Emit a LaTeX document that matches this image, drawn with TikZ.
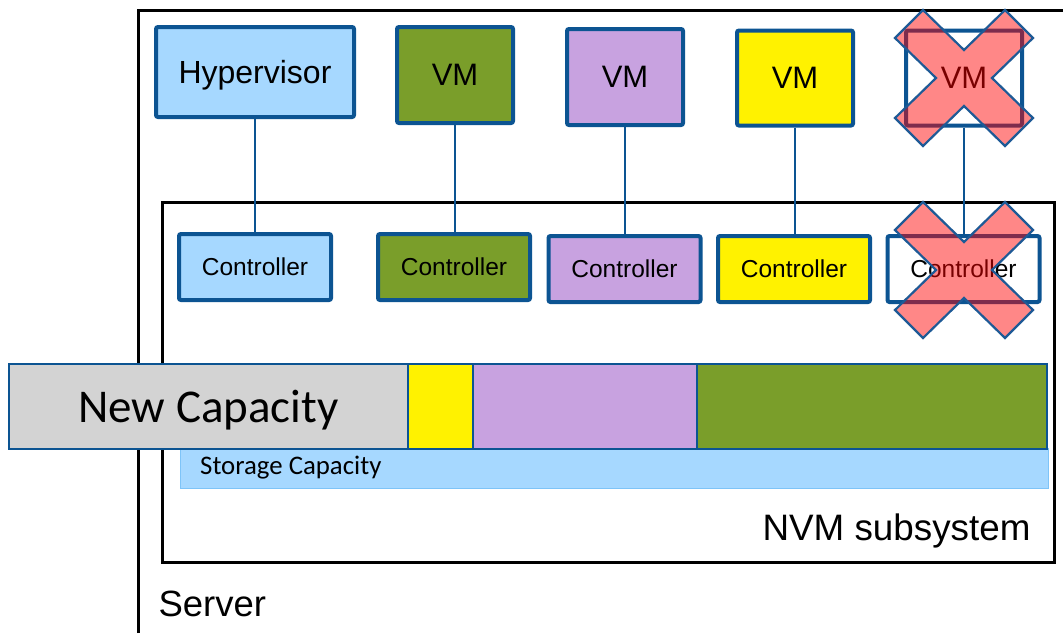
\documentclass[tikz,border=0pt]{standalone}
\usepackage{fontspec}
\setmainfont{Liberation Sans}
\newfontfamily\calfont{Carlito}
\definecolor{bblue}{RGB}{12,84,146}
\definecolor{lblue}{RGB}{166,216,255}
\definecolor{sblue}{RGB}{126,196,248}
\definecolor{ogreen}{RGB}{122,158,42}
\definecolor{lpurple}{RGB}{200,162,224}
\definecolor{gcap}{RGB}{211,211,211}
\definecolor{xred}{RGB}{255,0,0}
\definecolor{xblue}{RGB}{30,90,150}
\begin{document}
\begin{tikzpicture}[x=1pt,y=-1pt,
  box/.style={draw=bblue, line width=4pt, rounded corners=2pt, inner sep=0pt, align=center},
  topbox/.style={box, font=\fontsize{31}{36}\selectfont},
  ctrl/.style={box, minimum width=152, minimum height=66, font=\fontsize{24.5}{29}\selectfont},
  link/.style={draw=bblue, line width=1.3pt},
  seg/.style={draw=bblue, line width=2pt, inner sep=0pt},
  xmark/.style={fill=xred, fill opacity=0.47, draw=xblue, line width=2.2pt, line join=miter}
]
\useasboundingbox (0,0) rectangle (1063,633);
% Server
\draw[line width=3pt] (138,633) -- (138,10) -- (1063,10);
\node[anchor=west, font=\fontsize{36.5}{42}\selectfont] (server) at (155,604) {Server};
% NVM subsystem
\draw[line width=3pt, fill=white] (162,202) rectangle (1054,562);
\node[anchor=east, font=\fontsize{36.8}{42}\selectfont] (nvm) at (1034,531) {NVM subsystem};
% top boxes
\node[topbox, fill=lblue, minimum width=198, minimum height=90, text depth=0pt, font=\fontsize{32}{38}\selectfont] (hyp) at (255,72) {Hypervisor};
\node[topbox, fill=ogreen, minimum width=116, minimum height=96] (vm1) at (455,75) {VM};
\node[topbox, fill=lpurple, minimum width=116, minimum height=96] (vm2) at (625,77) {VM};
\node[topbox, fill=yellow, minimum width=116, minimum height=95] (vm3) at (795,78) {VM};
\node[topbox, fill=white, minimum width=116, minimum height=95] (vm4) at (964,78) {VM};
% controllers
\node[ctrl, fill=lblue] (c0) at (255,267) {Controller};
\node[ctrl, fill=ogreen] (c1) at (454,267) {Controller};
\node[ctrl, fill=lpurple] (c2) at (624.5,269) {Controller};
\node[ctrl, fill=yellow] (c3) at (794,269) {Controller};
\node[ctrl, fill=white] (c4) at (963.5,269) {Controller};
% links
\draw[link] (hyp.south) -- (hyp.south |- c0.north);
\draw[link] (vm1.south) -- (vm1.south |- c1.north);
\draw[link] (vm2.south) -- (vm2.south |- c2.north);
\draw[link] (vm3.south) -- (vm3.south |- c3.north);
\draw[link] (vm4.south) -- (vm4.south |- c4.north);
% storage capacity
\node[draw=sblue, line width=1pt, fill=lblue, anchor=north west, minimum width=868, minimum height=40, inner sep=0pt] (stor) at (180,448) {};
\node[anchor=west, inner sep=0pt, text depth=0pt, font=\calfont\fontsize{26.8}{31}\selectfont] (stortxt) at (200,465) {Storage Capacity};
% capacity segments
\node[seg, fill=gcap, anchor=north west, minimum width=399, minimum height=85, text depth=0pt, font=\calfont\fontsize{47}{54}\selectfont] (newcap) at (8,363) {New Capacity};
\node[seg, fill=yellow, anchor=north west, minimum width=65, minimum height=85] (sy) at (407,363) {};
\node[seg, fill=lpurple, anchor=north west, minimum width=224, minimum height=85] (sp) at (472,363) {};
\node[seg, fill=ogreen, anchor=north west, minimum width=350, minimum height=85] (sg) at (696,363) {};
% X marks
\foreach \cx/\cy in {964/78, 964/270} {
  \draw[xmark] (\cx-41,\cy-68) -- (\cx,\cy-28) -- (\cx+41,\cy-68) -- (\cx+69,\cy-40) -- (\cx+28,\cy)
    -- (\cx+69,\cy+40) -- (\cx+41,\cy+68) -- (\cx,\cy+28) -- (\cx-41,\cy+68) -- (\cx-69,\cy+40)
    -- (\cx-28,\cy) -- (\cx-69,\cy-40) -- cycle;
}
\end{tikzpicture}
\end{document}
